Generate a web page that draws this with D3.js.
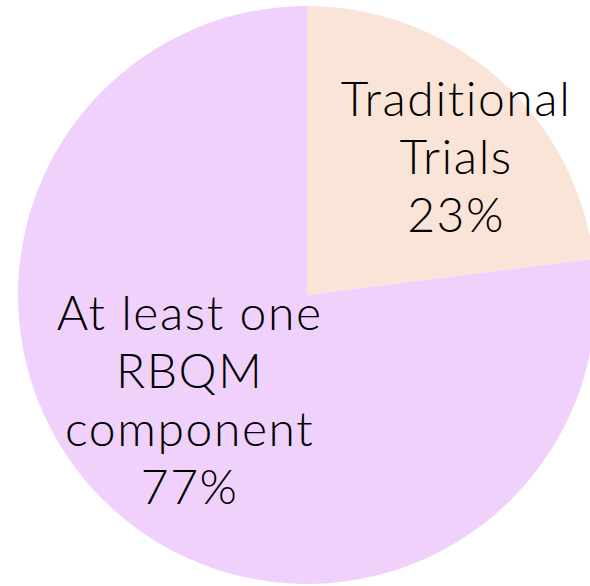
<!DOCTYPE html>
<html>
<head>
<meta charset="utf-8">
<script src="https://cdn.jsdelivr.net/npm/d3@7"></script>
<style>
  html, body { margin: 0; padding: 0; background: #fff; }
  svg { display: block; }
</style>
</head>
<body>
<svg></svg>
<script>
// Share of trials using RBQM

const categories = ['Traditional Trials', 'At least one RBQM component'];
const labelLines = [['Traditional', 'Trials'], ['At least one', 'RBQM', 'component']];
const values = [23, 77];
const colors = ['#FAE4D7', '#F0D1FC'];

const width = 590;
const height = 586;
const cx = 307, cy = 295, radius = 289;

const svg = d3.select('svg')
  .attr('width', width)
  .attr('height', height);

const pie = d3.pie().sort(null).value(d => d.value);
const arc = d3.arc().innerRadius(0).outerRadius(radius);

const data = categories.map((c, i) => ({name: c, value: values[i], lines: labelLines[i], color: colors[i]}));
const arcs = pie(data);

const g = svg.append('g').attr('transform', `translate(${cx},${cy})`);

g.selectAll('path')
  .data(arcs)
  .join('path')
  .attr('d', arc)
  .attr('fill', d => d.data.color);

// label anchor: centroid on a ring, then nudged like the original
const labelRadius = [224, 182];
const nudge = [[1, 30], [3, -32]];
const lineH = 58;

const label = g.selectAll('text')
  .data(arcs)
  .join('text')
  .attr('text-anchor', 'middle')
  .attr('fill', '#000')
  .style('font-family', '"Century Gothic", "URW Gothic", Lato, "DejaVu Sans", sans-serif')
  .style('font-size', '48px')
  .style('font-weight', 300)
  .style('letter-spacing', '1.6px')
  .attr('transform', (d, i) => {
    const a = d3.arc().innerRadius(labelRadius[i]).outerRadius(labelRadius[i]);
    const [x, y] = a.centroid(d);
    return `translate(${x + nudge[i][0]},${y + nudge[i][1]})`;
  });

label.each(function(d) {
  const lines = d.data.lines.concat([d3.format('.0f')(d.data.value) + '%']);
  const t = d3.select(this);
  const n = lines.length;
  lines.forEach((ln, j) => {
    t.append('tspan')
      .attr('x', 0)
      .attr('y', (j - (n - 1) / 2) * lineH + 17)
      .text(ln);
  });
});
</script>
</body>
</html>
